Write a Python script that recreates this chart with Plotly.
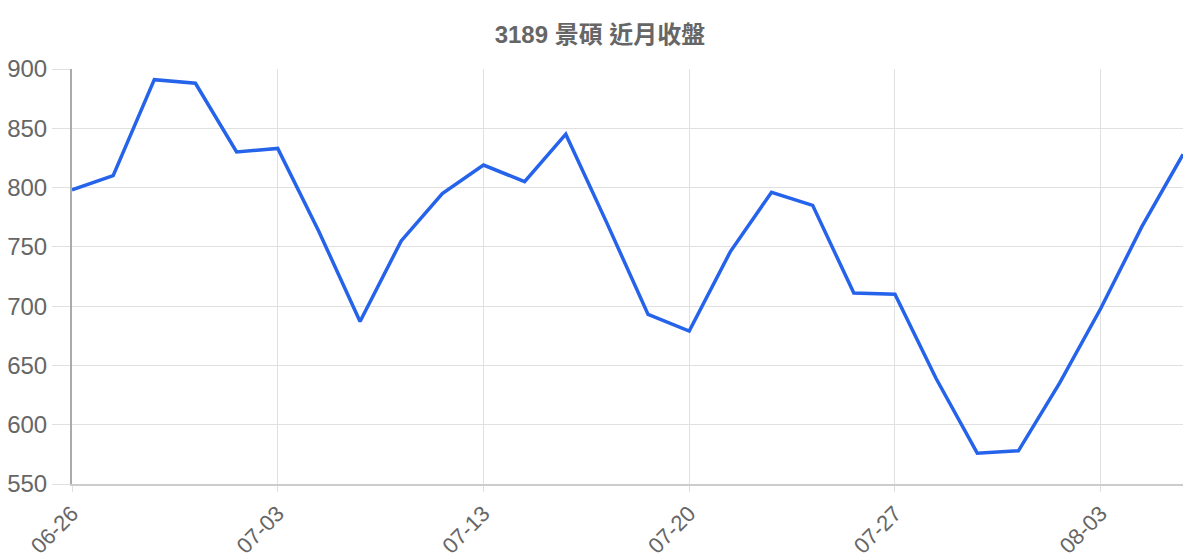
import plotly.graph_objects as go

dates = ["06-26", "06-27", "06-28", "06-29", "06-30", "07-03", "07-05", "07-06", "07-07", "07-10",
         "07-13", "07-14", "07-17", "07-18", "07-19", "07-20", "07-21", "07-24", "07-25", "07-26",
         "07-27", "07-28", "07-31", "08-01", "08-02", "08-03", "08-04", "08-07"]
close = [798, 810, 891, 888, 830, 833, 763, 687, 755, 795,
         819, 805, 845, 770, 693, 679, 746, 796, 785, 711,
         710, 639, 576, 578, 635, 698, 767, 828]
tick_labels = [dates[i] for i in range(0, len(dates), 5)]

font_family = "Liberation Sans, Arial, Noto Sans CJK TC, sans-serif"

fig = go.Figure()
fig.add_trace(go.Scatter(
    x=dates, y=close, mode="lines",
    line=dict(color="#2563eb", width=3.5),
    hoverinfo="x+y",
))

# page body has an 8px margin, so the figure is offset by it
fig.update_layout(
    width=1184, height=552,
    margin=dict(l=64, r=9, t=61, b=76),
    paper_bgcolor="white", plot_bgcolor="white",
    showlegend=False,
    title=dict(text="<b>3189 景碩 近月收盤</b>", x=0.5, xanchor="center", y=1 - 27 / 552, yanchor="middle",
               font=dict(family=font_family, size=24, color="#666666")),
    font=dict(family=font_family, color="#666666"),
)
fig.update_xaxes(
    type="category", categoryorder="array", categoryarray=dates,
    range=[0, len(dates) - 1],
    tickmode="array", tickvals=tick_labels, ticktext=tick_labels,
    tickangle=-45, tickfont=dict(size=22, color="#666666"),
    showgrid=True, gridcolor="#e0e0e0", gridwidth=1,
    ticks="outside", ticklen=6, tickcolor="#e0e0e0",
    showline=True, linecolor="#cccccc", linewidth=2,
    zeroline=False, automargin=False,
)
fig.update_yaxes(
    range=[550, 900], tickvals=[550, 600, 650, 700, 750, 800, 850, 900],
    tickfont=dict(size=24, color="#666666"),
    showgrid=True, gridcolor="#e0e0e0", gridwidth=1,
    ticks="outside", ticklen=18, tickcolor="#e0e0e0",
    showline=True, linecolor="#aaaaaa", linewidth=2,
    zeroline=False, automargin=False,
)

fig.write_html("out.html")
